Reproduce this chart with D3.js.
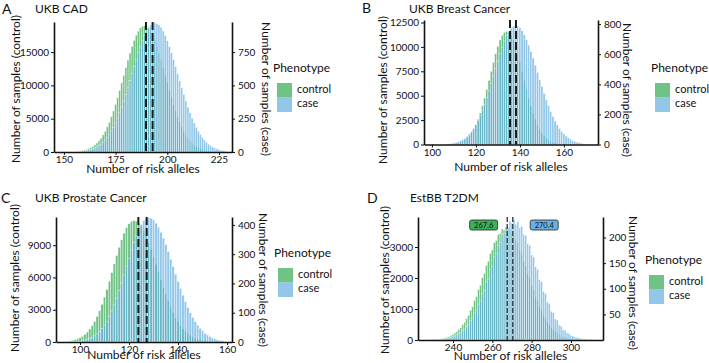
<!DOCTYPE html>
<html>
<head>
<meta charset="utf-8">
<script src="https://cdn.jsdelivr.net/npm/d3@7"></script>
<style>
  body { margin: 0; background: #fff; }
  svg text { font-family: Lato, 'Open Sans', sans-serif; fill: #111; }
</style>
</head>
<body>
<svg id="chart" width="709" height="363"></svg>
<script>
'use strict'

// A - UKB CAD, one bar per allele count starting at binStartA
var binStartA = 157
var controlA = [110, 160, 210, 290, 370, 500, 640, 840, 1060, 1350, 1700, 2090, 2580, 3120, 3770, 4470, 5290, 6160, 7140, 8150, 9260, 10370, 11530, 12660, 13810, 14860, 15880, 16750, 17550, 18150, 18640, 18890, 19010, 18900, 18630, 18150, 17540, 16760, 15870, 14860, 13800, 12670, 11520, 10380, 9240, 8170, 7120, 6170, 5280, 4480, 3750, 3130, 2570, 2100, 1690, 1350, 1060, 830, 650, 500, 370, 280, 210, 160, 110, 80, 60, 40, 30, 20, 15, 10]
var caseA = [4, 5, 6, 8, 11, 14, 18, 24, 30, 38, 48, 59, 73, 90, 109, 131, 157, 186, 218, 254, 294, 337, 383, 432, 482, 535, 588, 642, 694, 745, 792, 836, 875, 908, 935, 954, 966, 970, 962, 954, 935, 908, 875, 836, 792, 745, 694, 642, 588, 535, 482, 432, 383, 337, 294, 254, 218, 186, 157, 131, 109, 90, 73, 59, 48, 38, 30, 24, 18, 14, 11, 8]
var meansA = [189.7, 192.9]
var xTicksA = [150, 175, 200, 225]
var leftTicksA = [0, 5000, 10000, 15000]
var rightTicksA = [0, 250, 500, 750]

// B - UKB Breast Cancer
var binStartB = 108
var controlB = [30, 45, 70, 106, 157, 230, 332, 469, 651, 889, 1191, 1569, 2031, 2582, 3225, 3957, 4769, 5647, 6568, 7504, 8423, 9288, 10062, 10708, 11194, 11497, 11600, 11497, 11194, 10708, 10062, 9288, 8423, 7504, 6568, 5647, 4769, 3957, 3225, 2582, 2031, 1569, 1191, 889, 651, 469, 332, 230, 157, 106, 70, 45, 30, 20, 12, 8, 5, 3, 2, 1, 1]
var caseB = [5, 8, 10, 14, 19, 25, 32, 42, 54, 69, 86, 107, 131, 159, 191, 227, 267, 310, 356, 404, 454, 504, 554, 602, 647, 688, 723, 752, 773, 786, 790, 786, 774, 755, 729, 697, 660, 618, 574, 527, 479, 431, 385, 339, 296, 257, 220, 186, 156, 130, 107, 87, 70, 56, 44, 35, 27, 21, 16, 12, 9]
var meansB = [135.5, 138.2]
var xTicksB = [100, 120, 140, 160]
var leftTicksB = [0, 2500, 5000, 7500, 10000, 12500]
var rightTicksB = [0, 200, 400, 600, 800]

// C - UKB Prostate Cancer
var binStartC = 96
var controlC = [105, 150, 211, 292, 397, 533, 710, 929, 1200, 1529, 1922, 2380, 2910, 3511, 4174, 4888, 5655, 6450, 7259, 8052, 8809, 9504, 10115, 10619, 10992, 11222, 11300, 11238, 11051, 10751, 10342, 9838, 9255, 8617, 7928, 7214, 6492, 5778, 5087, 4428, 3818, 3249, 2739, 2280, 1878, 1529, 1232, 982, 774, 602, 464, 354, 267, 200, 147, 105, 75, 52, 36, 24, 16, 10, 7]
var caseC = [1, 1, 2, 2, 3, 5, 7, 9, 12, 16, 21, 28, 36, 46, 58, 71, 88, 106, 127, 150, 175, 201, 229, 258, 286, 314, 340, 364, 385, 402, 415, 422, 425, 423, 417, 406, 392, 375, 355, 333, 309, 283, 258, 232, 207, 183, 160, 138, 118, 100, 84, 70, 58, 47, 38, 30, 24, 19, 14, 11, 8, 6, 5]
var meansC = [123.8, 127.2]
var xTicksC = [100, 120, 140, 160]
var leftTicksC = [0, 3000, 6000, 9000]
var rightTicksC = [0, 100, 200, 300, 400]

// D - EstBB T2DM
var binStartD = 228
var controlD = [7, 10, 12, 18, 22, 31, 38, 55, 66, 90, 108, 146, 171, 228, 265, 340, 398, 498, 570, 702, 795, 962, 1070, 1272, 1398, 1630, 1765, 2010, 2150, 2410, 2540, 2795, 2905, 3140, 3210, 3405, 3440, 3580, 3550, 3620, 3560, 3570, 3430, 3395, 3210, 3130, 2905, 2790, 2540, 2405, 2150, 2010, 1760, 1625, 1400, 1265, 1075, 958, 795, 700, 570, 495, 398, 338, 266, 224, 173, 144, 108, 89, 66, 53, 39, 31, 22, 17, 12, 9, 7, 5, 4, 3, 2]
var caseD = [0, 0, 0, 1, 1, 1, 2, 2, 2, 3, 4, 5, 7, 8, 10, 13, 14, 19, 21, 27, 30, 38, 43, 53, 57, 70, 76, 90, 97, 114, 119, 138, 144, 162, 168, 185, 190, 205, 208, 221, 220, 232, 228, 235, 226, 231, 219, 222, 206, 205, 188, 185, 166, 162, 143, 138, 118, 114, 95, 91, 74, 71, 56, 53, 41, 39, 29, 27, 20, 19, 14, 13, 9, 8, 6, 5, 4, 3, 2, 2, 1, 1, 1]
var meansD = [267.6, 270.4]
var meanLabelsD = ['267.6', '270.4']
var xTicksD = [240, 260, 280, 300]
var leftTicksD = [0, 1000, 2000, 3000]
var rightTicksD = [50, 100, 150, 200]

var phenotypes = ['control', 'case']

var controlColor = 'rgb(50,170,80)'
var caseColor = 'rgb(100,175,225)'
var barOpacity = 0.7

var panels = [
  {
    letter: 'A', title: 'UKB CAD',
    start: binStartA, control: controlA, cases: caseA, means: meansA,
    xTicks: xTicksA, leftTicks: leftTicksA, rightTicks: rightTicksA,
    left: 54, right: 232, top: 22, bottom: 152,
    xDomain: [145.2, 231.3], leftMax: 19520, rightMax: 976,
    letterPos: [2, 14], titlePos: [35, 13],
    yLabelL: [16, 89], yLabelR: [266, 89], xLabelY: 173,
    legend: [273, 72]
  },
  {
    letter: 'B', title: 'UKB Breast Cancer',
    start: binStartB, control: controlB, cases: caseB, means: meansB,
    xTicks: xTicksB, leftTicks: leftTicksB, rightTicks: rightTicksB,
    left: 424, right: 598, top: 20, bottom: 144.5,
    xDomain: [96.4, 175.5], leftMax: 12756, rightMax: 827,
    letterPos: [362, 13], titlePos: [409, 13],
    yLabelL: [383, 90], yLabelR: [627, 90], xLabelY: 171,
    legend: [651, 72]
  },
  {
    letter: 'C', title: 'UKB Prostate Cancer',
    start: binStartC, control: controlC, cases: caseC, means: meansC,
    xTicks: xTicksC, leftTicks: leftTicksC, rightTicks: rightTicksC,
    left: 56, right: 232, top: 217, bottom: 342,
    xDomain: [90.2, 162], leftMax: 11620, rightMax: 427,
    letterPos: [1, 203], titlePos: [35, 202],
    yLabelL: [15, 278], yLabelR: [263, 280], xLabelY: 359,
    legend: [274, 257]
  },
  {
    letter: 'D', title: 'EstBB T2DM',
    start: binStartD, control: controlD, cases: caseD, means: meansD,
    meanLabels: meanLabelsD,
    xTicks: xTicksD, leftTicks: leftTicksD, rightTicks: rightTicksD,
    left: 418, right: 603, top: 217, bottom: 340,
    xDomain: [222.2, 316.3], leftMax: 3968, rightMax: 240,
    letterPos: [367, 203], titlePos: [410, 202],
    yLabelL: [385, 280], yLabelR: [633, 283], xLabelY: 360,
    legend: [645, 264],
    thinMeans: true
  }
]

var svg = d3.select('#chart')
var fmt = d3.format('d')

panels.forEach(drawPanel)

function styleAxis(sel) {
  sel.select('.domain').attr('stroke', '#111').attr('stroke-width', 1.6)
  sel.selectAll('.tick line').attr('stroke', '#111').attr('stroke-width', 1)
  sel.selectAll('text')
    .attr('font-family', 'Lato, sans-serif')
    .attr('font-size', '10px')
    .attr('fill', '#111')
}

function drawPanel(p) {
  var g = svg.append('g')

  var x = d3.scaleLinear().domain(p.xDomain).range([p.left, p.right])
  var yL = d3.scaleLinear().domain([0, p.leftMax]).range([p.bottom, p.top])
  var yR = d3.scaleLinear().domain([0, p.rightMax]).range([p.bottom, p.top])

  var bins = p.control.map(function(v, i) {
    return { k: p.start + i, control: v, cases: p.cases[i] }
  })

  // control bars on the left scale
  g.append('g')
    .selectAll('rect')
    .data(bins)
    .enter()
    .append('rect')
    .attr('x', function(d) { return x(d.k - 0.5) })
    .attr('width', function(d) { return x(d.k + 0.5) - x(d.k - 0.5) })
    .attr('y', function(d) { return yL(d.control) })
    .attr('height', function(d) { return p.bottom - yL(d.control) })
    .attr('fill', controlColor)
    .attr('fill-opacity', barOpacity)
    .attr('stroke', '#fff')
    .attr('stroke-opacity', 0.8)
    .attr('stroke-width', 0.5)

  // case bars on the right scale, drawn over
  g.append('g')
    .selectAll('rect')
    .data(bins)
    .enter()
    .append('rect')
    .attr('x', function(d) { return x(d.k - 0.5) })
    .attr('width', function(d) { return x(d.k + 0.5) - x(d.k - 0.5) })
    .attr('y', function(d) { return yR(d.cases) })
    .attr('height', function(d) { return p.bottom - yR(d.cases) })
    .attr('fill', caseColor)
    .attr('fill-opacity', barOpacity)
    .attr('stroke', '#fff')
    .attr('stroke-opacity', 0.8)
    .attr('stroke-width', 0.5)

  // mean lines
  g.append('g')
    .selectAll('line')
    .data(p.means)
    .enter()
    .append('line')
    .attr('x1', function(d) { return x(d) })
    .attr('x2', function(d) { return x(d) })
    .attr('y1', p.top)
    .attr('y2', p.bottom)
    .attr('stroke', p.thinMeans ? '#2f4050' : '#1a1a1a')
    .attr('stroke-width', p.thinMeans ? 1.4 : 2)
    .attr('stroke-dasharray', p.thinMeans ? '5,2' : '8,3')

  if (p.meanLabels) {
    var offsets = [-12, 16]
    var fills = ['rgb(62,175,88)', 'rgb(105,176,228)']
    var ann = g.append('g')
      .selectAll('g')
      .data(p.means)
      .enter()
      .append('g')
      .attr('transform', function(d, i) {
        return 'translate(' + x(d + offsets[i]) + ',' + (p.top + 8) + ')'
      })
    ann.append('rect')
      .attr('x', -14)
      .attr('y', -5)
      .attr('width', 28)
      .attr('height', 10)
      .attr('rx', 2)
      .attr('fill', function(d, i) { return fills[i] })
      .attr('stroke', '#1d2a22')
      .attr('stroke-width', 0.8)
    ann.append('text')
      .attr('text-anchor', 'middle')
      .attr('dy', '0.35em')
      .attr('font-size', '7.5px')
      .attr('font-family', 'DejaVu Sans, sans-serif')
      .attr('fill', '#1a1a1a')
      .text(function(d, i) { return p.meanLabels[i] })
  }

  // axes
  g.append('g')
    .attr('transform', 'translate(0,' + p.bottom + ')')
    .call(d3.axisBottom(x).tickValues(p.xTicks).tickFormat(fmt).tickSize(3).tickSizeOuter(0).tickPadding(1))
    .call(styleAxis)

  g.append('g')
    .attr('transform', 'translate(' + p.left + ',0)')
    .call(d3.axisLeft(yL).tickValues(p.leftTicks).tickFormat(fmt).tickSize(3).tickSizeOuter(0).tickPadding(2))
    .call(styleAxis)

  g.append('g')
    .attr('transform', 'translate(' + p.right + ',0)')
    .call(d3.axisRight(yR).tickValues(p.rightTicks).tickFormat(fmt).tickSize(3).tickSizeOuter(0).tickPadding(3))
    .call(styleAxis)

  // labels
  g.append('text')
    .attr('x', p.letterPos[0])
    .attr('y', p.letterPos[1])
    .attr('font-size', '14px')
    .text(p.letter)

  g.append('text')
    .attr('x', p.titlePos[0])
    .attr('y', p.titlePos[1])
    .attr('font-size', '12px')
    .text(p.title)

  g.append('text')
    .attr('x', (p.left + p.right) / 2)
    .attr('y', p.xLabelY)
    .attr('text-anchor', 'middle')
    .attr('font-size', '12px')
    .text('Number of risk alleles')

  g.append('text')
    .attr('transform', 'translate(' + p.yLabelL[0] + ',' + p.yLabelL[1] + ') rotate(-90)')
    .attr('text-anchor', 'middle')
    .attr('dy', '0.35em')
    .attr('font-size', '12px')
    .text('Number of samples (control)')

  g.append('text')
    .attr('transform', 'translate(' + p.yLabelR[0] + ',' + p.yLabelR[1] + ') rotate(90)')
    .attr('text-anchor', 'middle')
    .attr('dy', '0.35em')
    .attr('font-size', '12px')
    .text('Number of samples (case)')

  // legend
  var lg = g.append('g').attr('transform', 'translate(' + p.legend[0] + ',' + p.legend[1] + ')')
  lg.append('text').attr('font-size', '12px').text('Phenotype')
  var item = lg.selectAll('g.item')
    .data(phenotypes)
    .enter()
    .append('g')
    .attr('class', 'item')
    .attr('transform', function(d, i) { return 'translate(4,' + (11 + i * 14.5) + ')' })
  item.append('rect')
    .attr('width', 15)
    .attr('height', 14.5)
    .attr('fill', function(d) { return d === 'control' ? controlColor : caseColor })
    .attr('fill-opacity', barOpacity)
  item.append('text')
    .attr('x', 20)
    .attr('y', 9.5)
    .attr('font-size', '11px')
    .text(function(d) { return d })
}
</script>
</body>
</html>
